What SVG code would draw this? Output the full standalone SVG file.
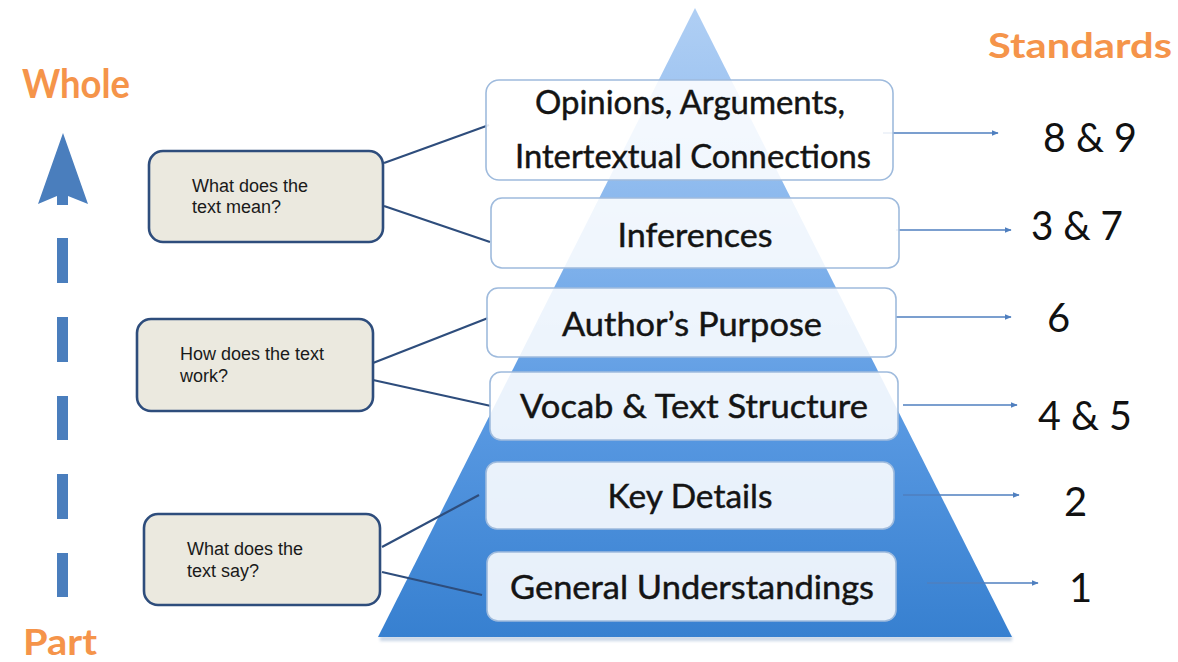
<svg xmlns="http://www.w3.org/2000/svg" width="1178" height="662" viewBox="0 0 1178 662">
  <defs>
    <linearGradient id="pyrFill" x1="0" y1="8" x2="0" y2="637" gradientUnits="userSpaceOnUse">
      <stop offset="0" stop-color="#b0cff4"/>
      <stop offset="0.35" stop-color="#87b6ed"/>
      <stop offset="0.65" stop-color="#5999e2"/>
      <stop offset="1" stop-color="#3780d0"/>
    </linearGradient>
    <marker id="tip" viewBox="0 0 10 10" refX="9" refY="5" markerWidth="7" markerHeight="7" markerUnits="userSpaceOnUse" orient="auto">
      <path d="M0,1 L10,5 L0,9 Z" fill="#4f7fbf"/>
    </marker>
    <filter id="soft" x="-5%" y="-50%" width="110%" height="200%">
      <feGaussianBlur stdDeviation="1.5"/>
    </filter>
    <style>
      .level { fill: #ffffff; fill-opacity: 0.88; stroke: #9fbbdd; stroke-width: 1.6; }
      .levelText { font-family: Lato, "Open Sans", "Liberation Sans", sans-serif; font-size: 33px; fill: #141414; stroke: #141414; stroke-width: 0.45; text-anchor: middle; }
      .callout { fill: #ebe9df; stroke: #2e4d7c; stroke-width: 2.6; }
      .calloutText { font-family: "Liberation Sans", Arial, sans-serif; font-size: 18px; fill: #1a1a1a; }
      .std { font-family: Lato, "Open Sans", "Liberation Sans", sans-serif; font-size: 40px; fill: #111111; }
      .heading { font-family: Lato, "Open Sans", "Liberation Sans", sans-serif; font-weight: bold; fill: #f5944a; }
      .link { stroke: #2e4d7c; stroke-width: 2.2; fill: none; }
      .toStd { stroke: #4f7fbf; stroke-width: 1.4; fill: none; marker-end: url(#tip); }
      .dash { fill: #4a7ebd; }
    </style>
  </defs>

  <rect width="1178" height="662" fill="#ffffff"/>

  <!-- headings -->
  <text id="whole" class="heading" x="22" y="98" font-size="40" textLength="108" lengthAdjust="spacingAndGlyphs">Whole</text>
  <text id="part" class="heading" x="23" y="655" font-size="37" textLength="74" lengthAdjust="spacingAndGlyphs">Part</text>
  <text id="standards" class="heading" x="988" y="58" font-size="35" textLength="184" lengthAdjust="spacingAndGlyphs">Standards</text>

  <!-- part-to-whole dashed arrow -->
  <g id="progress-arrow">
    <path class="dash" d="M63,133 L88,204 L68,196 L68,205 L57,205 L57,196 L38,204 Z"/>
    <rect class="dash" x="57" y="238" width="11" height="45"/>
    <rect class="dash" x="57" y="317" width="11" height="45"/>
    <rect class="dash" x="57" y="396" width="11" height="44"/>
    <rect class="dash" x="57" y="474" width="11" height="45"/>
    <rect class="dash" x="57" y="553" width="11" height="44"/>
  </g>

  <!-- pyramid -->
  <g id="pyramid">
    <rect x="380" y="636" width="632" height="5" fill="#c9d6e6" filter="url(#soft)"/>
    <path d="M695,8 L1012,637 L378,637 Z" fill="url(#pyrFill)"/>
  </g>

  <!-- connectors -->
  <g id="connectors">
    <line class="link" x1="384" y1="163" x2="489" y2="125"/>
    <line class="link" x1="384" y1="206" x2="490" y2="242"/>
    <line class="link" x1="373" y1="363" x2="488" y2="318"/>
    <line class="link" x1="373" y1="380" x2="491" y2="406"/>
    <line class="link" x1="382" y1="547" x2="479" y2="495"/>
    <line class="link" x1="382" y1="572" x2="482" y2="595"/>
    <line class="toStd" x1="883" y1="133" x2="998" y2="133"/>
    <line class="toStd" x1="896" y1="230" x2="1011" y2="230"/>
    <line class="toStd" x1="896" y1="317" x2="1011" y2="317"/>
    <line class="toStd" x1="903" y1="405" x2="1017" y2="405"/>
    <line class="toStd" x1="903" y1="495" x2="1019" y2="495"/>
    <line class="toStd" x1="927" y1="583" x2="1038" y2="583"/>
  </g>

  <!-- pyramid levels -->
  <g id="level-opinions">
    <rect class="level" x="486" y="80" width="407" height="100" rx="13"/>
    <text class="levelText" x="690" y="114" textLength="310" lengthAdjust="spacingAndGlyphs">Opinions, Arguments,</text>
    <text class="levelText" x="693" y="168" textLength="356" lengthAdjust="spacingAndGlyphs">Intertextual Connections</text>
  </g>
  <g id="level-inferences">
    <rect class="level" x="491" y="198" width="408" height="70" rx="11"/>
    <text class="levelText" x="695" y="247" textLength="155" lengthAdjust="spacingAndGlyphs">Inferences</text>
  </g>
  <g id="level-purpose">
    <rect class="level" x="487" y="288" width="409" height="69" rx="11"/>
    <text class="levelText" x="692" y="336" textLength="260" lengthAdjust="spacingAndGlyphs">Author’s Purpose</text>
  </g>
  <g id="level-vocab">
    <rect class="level" x="490" y="372" width="408" height="68" rx="11"/>
    <text class="levelText" x="694" y="418" textLength="348" lengthAdjust="spacingAndGlyphs">Vocab &amp; Text Structure</text>
  </g>
  <g id="level-details">
    <rect class="level" x="486" y="462" width="408" height="67" rx="11"/>
    <text class="levelText" x="690" y="508" textLength="165" lengthAdjust="spacingAndGlyphs">Key Details</text>
  </g>
  <g id="level-general">
    <rect class="level" x="487" y="552" width="409" height="69" rx="11"/>
    <text class="levelText" x="692" y="599" textLength="364" lengthAdjust="spacingAndGlyphs">General Understandings</text>
  </g>

  <!-- guiding questions -->
  <g id="q-mean">
    <rect class="callout" x="149" y="151" width="234" height="91" rx="14"/>
    <text class="calloutText" x="192" y="192">What does the</text>
    <text class="calloutText" x="192" y="213">text mean?</text>
  </g>
  <g id="q-work">
    <rect class="callout" x="137" y="319" width="236" height="92" rx="14"/>
    <text class="calloutText" x="180" y="360">How does the text</text>
    <text class="calloutText" x="180" y="382">work?</text>
  </g>
  <g id="q-say">
    <rect class="callout" x="144" y="514" width="236" height="91" rx="14"/>
    <text class="calloutText" x="187" y="555">What does the</text>
    <text class="calloutText" x="187" y="577">text say?</text>
  </g>

  <!-- standards numbers -->
  <g id="standards-numbers">
    <text class="std" x="1043" y="152" textLength="94" lengthAdjust="spacingAndGlyphs">8 &amp; 9</text>
    <text class="std" x="1031" y="240" textLength="92" lengthAdjust="spacingAndGlyphs">3 &amp; 7</text>
    <text class="std" x="1047" y="332">6</text>
    <text class="std" x="1038" y="430" textLength="94" lengthAdjust="spacingAndGlyphs">4 &amp; 5</text>
    <text class="std" x="1064" y="516">2</text>
    <text class="std" x="1069" y="602">1</text>
  </g>
</svg>
